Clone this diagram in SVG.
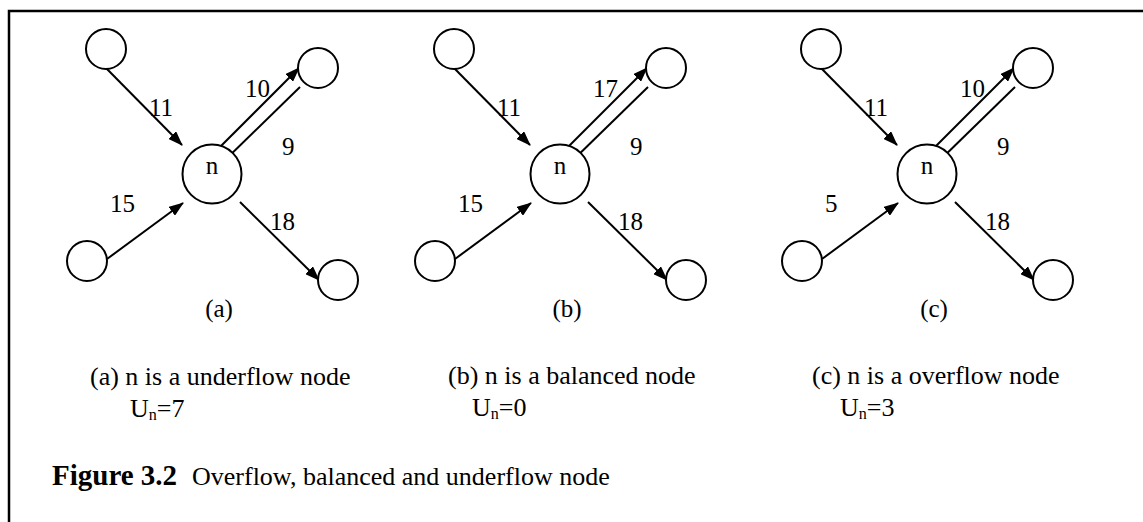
<svg xmlns="http://www.w3.org/2000/svg" width="1143" height="522" viewBox="0 0 1143 522">
<style>
  .nd { fill: #fff; stroke: #000; stroke-width: 2; }
  .cn { stroke: #000; stroke-width: 2; fill: none; marker-end: url(#ah); }
  text { font-family: "Liberation Serif", "Times New Roman", serif; fill: #000; }
  .lb { font-size: 25px; }
  .cap { font-size: 26px; }
  .sub { font-size: 16px; }
</style>
<defs>
  <marker id="ah" markerUnits="userSpaceOnUse" markerWidth="15" markerHeight="11" refX="14" refY="5.5" orient="auto">
    <path d="M0,0 L15,5.5 L0,11 z" fill="#000"/>
  </marker>
</defs>
<rect x="9" y="11" width="1160" height="540" fill="#fff" stroke="#000" stroke-width="2.5"/>

<!-- Panel (a) -->
<g id="panel-a" transform="translate(212,174)">
  <g id="a-connectors">
    <line class="cn" x1="-106" y1="-106" x2="-30" y2="-29"/>
    <line class="cn" x1="9" y1="-28" x2="87" y2="-106"/>
    <line class="cn" x1="88" y1="-87" x2="9" y2="-10"/>
    <line class="cn" x1="-105" y1="85" x2="-29" y2="29"/>
    <line class="cn" x1="28" y1="28" x2="107" y2="106"/>
  </g>
  <g id="a-n"><circle class="nd" cx="0" cy="0" r="29.5"/><text class="lb" x="0" y="0" text-anchor="middle">n</text></g>
  <g id="a-tl"><circle class="nd" cx="-106" cy="-125" r="20"/></g>
  <g id="a-tr"><circle class="nd" cx="106" cy="-106" r="20"/></g>
  <g id="a-bl"><circle class="nd" cx="-125" cy="87" r="20"/></g>
  <g id="a-br"><circle class="nd" cx="126" cy="106" r="20"/></g>
  <g id="a-labels">
    <text class="lb" x="-63" y="-58">11</text>
    <text class="lb" x="33" y="-77">10</text>
    <text class="lb" x="70" y="-19">9</text>
    <text class="lb" x="-102" y="38">15</text>
    <text class="lb" x="58" y="56">18</text>
    <text class="lb" x="7" y="143" text-anchor="middle">(a)</text>
  </g>
</g>

<!-- Panel (b) -->
<g id="panel-b" transform="translate(560,174)">
  <g id="b-connectors">
    <line class="cn" x1="-106" y1="-106" x2="-30" y2="-29"/>
    <line class="cn" x1="9" y1="-28" x2="87" y2="-106"/>
    <line class="cn" x1="88" y1="-87" x2="9" y2="-10"/>
    <line class="cn" x1="-105" y1="85" x2="-29" y2="29"/>
    <line class="cn" x1="28" y1="28" x2="107" y2="106"/>
  </g>
  <g id="b-n"><circle class="nd" cx="0" cy="0" r="29.5"/><text class="lb" x="0" y="0" text-anchor="middle">n</text></g>
  <g id="b-tl"><circle class="nd" cx="-106" cy="-125" r="20"/></g>
  <g id="b-tr"><circle class="nd" cx="106" cy="-106" r="20"/></g>
  <g id="b-bl"><circle class="nd" cx="-125" cy="87" r="20"/></g>
  <g id="b-br"><circle class="nd" cx="126" cy="106" r="20"/></g>
  <g id="b-labels">
    <text class="lb" x="-63" y="-58">11</text>
    <text class="lb" x="33" y="-77">17</text>
    <text class="lb" x="70" y="-19">9</text>
    <text class="lb" x="-102" y="38">15</text>
    <text class="lb" x="58" y="56">18</text>
    <text class="lb" x="7" y="143" text-anchor="middle">(b)</text>
  </g>
</g>

<!-- Panel (c) -->
<g id="panel-c" transform="translate(927,174)">
  <g id="c-connectors">
    <line class="cn" x1="-106" y1="-106" x2="-30" y2="-29"/>
    <line class="cn" x1="9" y1="-28" x2="87" y2="-106"/>
    <line class="cn" x1="88" y1="-87" x2="9" y2="-10"/>
    <line class="cn" x1="-105" y1="85" x2="-29" y2="29"/>
    <line class="cn" x1="28" y1="28" x2="107" y2="106"/>
  </g>
  <g id="c-n"><circle class="nd" cx="0" cy="0" r="29.5"/><text class="lb" x="0" y="0" text-anchor="middle">n</text></g>
  <g id="c-tl"><circle class="nd" cx="-106" cy="-125" r="20"/></g>
  <g id="c-tr"><circle class="nd" cx="106" cy="-106" r="20"/></g>
  <g id="c-bl"><circle class="nd" cx="-125" cy="87" r="20"/></g>
  <g id="c-br"><circle class="nd" cx="126" cy="106" r="20"/></g>
  <g id="c-labels">
    <text class="lb" x="-63" y="-58">11</text>
    <text class="lb" x="33" y="-77">10</text>
    <text class="lb" x="70" y="-19">9</text>
    <text class="lb" x="-102" y="38">5</text>
    <text class="lb" x="58" y="56">18</text>
    <text class="lb" x="7" y="143" text-anchor="middle">(c)</text>
  </g>
</g>

<g id="captions">
  <text class="cap" x="90" y="385">(a) n is a underflow node</text>
  <text class="cap" x="130" y="417">U<tspan class="sub" dy="3">n</tspan><tspan dy="-3">=7</tspan></text>
  <text class="cap" x="448" y="384">(b) n is a balanced node</text>
  <text class="cap" x="472" y="416">U<tspan class="sub" dy="3">n</tspan><tspan dy="-3">=0</tspan></text>
  <text class="cap" x="812" y="384">(c) n is a overflow node</text>
  <text class="cap" x="840" y="416">U<tspan class="sub" dy="3">n</tspan><tspan dy="-3">=3</tspan></text>
  <text x="52" y="485" font-size="29" font-weight="bold">Figure 3.2</text>
  <text class="cap" x="192" y="485">Overflow, balanced and underflow node</text>
</g>
</svg>
